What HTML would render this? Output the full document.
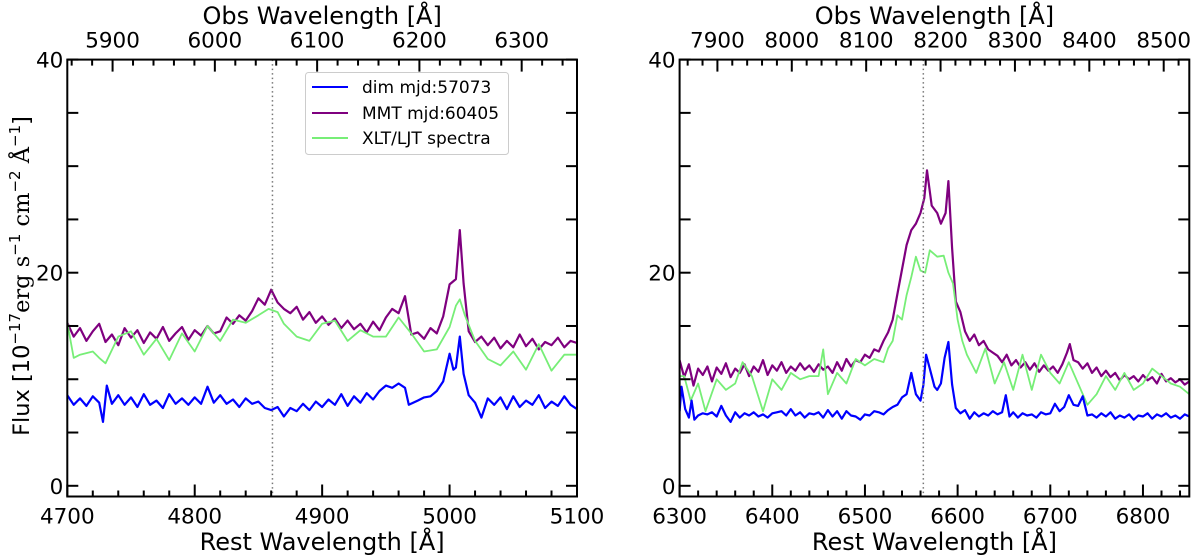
<!DOCTYPE html>
<html><head><meta charset="utf-8"><style>
html,body{margin:0;padding:0;background:#fff;width:1200px;height:556px;overflow:hidden}
svg{font-family:"DejaVu Sans","Liberation Sans",sans-serif}
</style></head><body>
<svg id="chart" width="1200" height="556" xmlns="http://www.w3.org/2000/svg"></svg>
<script>
// ---- data: left panel (Hbeta / [OIII]) ----
const L_blue_wl=[4700,4705,4710,4715,4720,4725,4728,4731,4735,4740,4745,4750,4755,4760,4765,4770,4775,4780,4785,4790,4795,4800,4805,4810,4815,4820,4825,4830,4835,4840,4845,4850,4855,4860,4865,4870,4875,4880,4885,4890,4895,4900,4905,4910,4915,4920,4925,4930,4935,4940,4945,4950,4955,4960,4965,4968,4975,4980,4985,4990,4995,5000,5003,5005,5008,5011,5015,5020,5025,5030,5035,5040,5045,5050,5055,5060,5065,5070,5075,5080,5085,5090,5095,5100];
const L_blue_flux=[8.5,7.6,8.2,7.5,8.4,7.8,6.0,9.4,7.7,8.5,7.6,8.3,7.4,8.6,7.6,8.0,7.3,8.6,7.7,8.2,7.6,8.3,7.7,9.3,7.8,8.5,7.7,8.1,7.4,8.2,7.7,7.9,7.3,7.1,7.4,6.5,7.3,7.0,7.7,7.1,7.9,7.4,8.1,7.6,8.6,7.5,8.4,7.8,8.7,8.1,8.9,9.4,9.2,9.6,9.2,7.6,8.0,8.3,8.4,8.9,9.8,12.4,10.9,11.1,14.0,10.5,8.5,7.8,6.4,8.2,7.6,8.3,7.2,8.4,7.4,8.0,7.6,8.5,7.3,7.9,7.5,8.4,7.6,7.2];
const L_mmt_wl=[4700,4705,4710,4715,4720,4725,4730,4735,4740,4745,4750,4755,4760,4765,4770,4775,4780,4785,4790,4795,4800,4805,4810,4815,4820,4825,4830,4835,4840,4845,4850,4855,4860,4865,4870,4875,4880,4885,4890,4895,4900,4905,4910,4915,4920,4925,4930,4935,4940,4945,4950,4955,4960,4965,4970,4975,4980,4985,4990,4995,5000,5005,5008,5011,5015,5020,5025,5030,5035,5040,5045,5050,5055,5060,5065,5070,5075,5080,5085,5090,5095,5100];
const L_mmt_flux=[15.3,14.0,14.8,13.6,14.5,15.2,13.5,14.2,13.2,14.8,13.9,14.6,13.4,14.4,13.8,14.9,13.6,14.3,14.9,13.7,14.6,14.1,15.0,14.3,14.5,15.8,15.2,16.0,15.5,16.4,17.6,17.0,18.4,17.2,16.6,16.2,16.8,15.6,16.3,15.3,15.9,15.1,15.7,14.8,15.5,14.7,15.2,14.4,15.4,14.6,15.8,16.6,16.2,17.8,14.2,14.4,13.8,14.8,14.3,15.9,18.9,19.4,24.0,19.0,14.5,13.5,14.0,13.2,13.9,12.9,13.6,13.0,14.2,13.1,13.8,12.8,13.5,13.2,13.9,13.0,13.6,13.4];
const L_xlt_wl=[4700,4705,4710,4720,4725,4730,4740,4750,4760,4770,4780,4790,4800,4810,4820,4830,4840,4850,4858,4865,4870,4880,4890,4900,4910,4920,4930,4940,4950,4960,4970,4980,4990,5000,5005,5008,5012,5020,5030,5040,5050,5060,5070,5080,5090,5100];
const L_xlt_flux=[15.3,12.0,12.3,12.6,12.0,11.5,14.0,14.5,12.3,13.8,11.8,14.3,12.6,15.0,13.6,15.6,15.3,16.0,16.6,16.3,15.2,14.0,13.6,15.2,15.5,13.6,14.6,14.0,14.0,15.8,14.3,12.6,12.8,14.9,16.9,17.5,16.0,13.6,11.9,11.3,12.6,10.9,13.3,10.8,12.3,12.3];
// ---- data: right panel (Halpha) ----
const R_blue_wl=[6300,6302,6306,6310,6313,6316,6320,6325,6330,6335,6340,6345,6350,6355,6360,6365,6370,6375,6380,6385,6390,6395,6400,6405,6410,6415,6420,6425,6430,6435,6440,6445,6450,6455,6460,6465,6470,6475,6480,6485,6490,6495,6500,6505,6510,6515,6520,6525,6530,6535,6540,6545,6550,6555,6560,6563,6566,6570,6575,6578,6582,6586,6590,6594,6598,6603,6608,6613,6618,6623,6628,6633,6638,6643,6648,6652,6656,6660,6665,6670,6675,6680,6685,6690,6695,6700,6705,6710,6715,6720,6725,6730,6735,6740,6745,6750,6755,6760,6765,6770,6775,6780,6785,6790,6795,6800,6805,6810,6815,6820,6825,6830,6835,6840,6845,6850];
const R_blue_flux=[7.0,9.3,7.2,6.4,8.0,6.2,6.6,6.8,6.7,6.9,6.5,7.5,6.6,6.0,6.9,6.4,6.8,6.6,6.9,6.5,6.7,6.4,6.8,6.9,7.0,6.6,7.2,6.6,6.9,6.4,6.8,6.7,6.9,6.4,7.1,6.5,7.0,6.3,7.0,6.6,6.5,6.2,6.7,6.6,7.0,6.9,6.7,7.1,7.4,7.6,8.3,8.6,10.6,8.6,8.0,9.4,12.3,11.0,9.3,9.0,9.6,12.0,13.5,9.5,7.3,6.8,7.1,6.3,6.9,6.5,6.8,6.6,7.0,6.7,6.9,8.5,6.5,6.9,6.4,6.8,6.6,6.7,6.4,6.9,6.7,6.8,7.7,7.0,7.4,8.5,7.6,7.5,8.4,6.6,6.7,6.4,6.8,6.5,6.9,6.3,6.6,6.4,6.7,6.2,6.6,6.5,6.8,6.3,6.7,6.5,6.8,6.4,6.6,6.3,6.7,6.5];
const R_mmt_wl=[6300,6305,6310,6315,6320,6325,6330,6335,6340,6345,6350,6355,6360,6365,6370,6375,6380,6385,6390,6395,6400,6405,6410,6415,6420,6425,6430,6435,6440,6445,6450,6455,6460,6465,6470,6475,6480,6485,6490,6495,6500,6505,6510,6515,6520,6525,6530,6535,6540,6545,6550,6555,6560,6564,6567,6572,6578,6582,6587,6590,6594,6598,6603,6608,6613,6618,6623,6628,6633,6638,6643,6648,6653,6658,6663,6668,6673,6678,6683,6688,6693,6698,6703,6708,6713,6718,6721,6725,6730,6735,6740,6745,6750,6755,6760,6765,6770,6775,6780,6785,6790,6795,6800,6805,6810,6815,6820,6825,6830,6835,6840,6845,6850];
const R_mmt_flux=[11.8,10.2,11.4,9.4,11.0,10.4,11.2,9.8,11.1,10.5,11.5,10.2,11.0,10.6,11.4,10.3,11.2,10.7,11.8,10.4,11.3,10.8,11.6,10.6,11.2,10.8,11.5,10.9,11.3,10.7,11.4,10.9,11.2,10.6,11.6,10.8,11.9,11.2,11.8,11.6,12.3,12.0,12.8,12.6,13.6,14.4,15.6,18.0,20.3,22.6,24.0,24.6,25.6,27.0,29.6,26.3,25.6,24.6,25.6,28.6,22.3,17.3,16.3,14.5,13.6,14.2,13.2,13.6,12.8,12.5,12.2,11.6,12.3,11.3,11.8,11.1,11.6,10.9,11.5,10.7,11.3,10.8,11.2,10.6,11.4,12.5,13.3,11.8,11.6,11.0,11.5,10.6,11.1,10.3,10.8,10.2,10.6,9.9,10.4,10.0,10.3,9.8,10.4,9.9,10.2,9.6,10.5,9.8,10.1,9.7,10.0,9.5,9.8];
const R_xlt_wl=[6300,6305,6312,6320,6328,6340,6350,6360,6368,6378,6390,6400,6410,6420,6430,6440,6450,6455,6460,6470,6480,6490,6500,6510,6520,6525,6530,6535,6540,6545,6550,6555,6560,6565,6570,6578,6585,6590,6595,6600,6605,6610,6620,6630,6640,6650,6660,6670,6680,6690,6700,6710,6720,6730,6740,6750,6760,6770,6780,6790,6800,6810,6820,6830,6840,6850];
const R_xlt_flux=[10.3,10.3,8.0,9.6,7.0,10.0,9.0,9.6,11.6,10.3,7.0,10.0,9.0,10.6,10.0,10.3,10.3,12.8,8.6,10.6,9.6,11.9,11.3,11.9,11.6,12.9,13.6,16.0,15.6,17.9,19.6,21.5,20.2,20.0,22.1,21.5,21.6,20.0,19.0,15.6,13.6,12.3,10.6,12.9,9.6,11.6,9.0,12.3,9.0,12.3,10.6,9.6,11.6,9.6,7.6,8.6,10.3,9.0,10.6,9.0,9.6,11.0,10.3,9.6,9.3,8.6];
const yTicks=[0,20,40];
const L_xTicks=[4700,4800,4900,5000,5100];
const L_obsTicks=[5900,6000,6100,6200,6300];
const R_xTicks=[6300,6400,6500,6600,6700,6800];
const R_obsTicks=[7900,8000,8100,8200,8300,8400,8500];
const zfac=1.2459;

const NS="http://www.w3.org/2000/svg";
const svg=document.getElementById('chart');
function mk(tag,attrs,parent){const e=document.createElementNS(NS,tag);for(const k in attrs)e.setAttribute(k,attrs[k]);(parent||svg).appendChild(e);return e;}

function panel(p){
  const g=mk('g',{});
  
  
  const X=v=>p.x0+(v-p.xmin)/(p.xmax-p.xmin)*(p.x1-p.x0);
  const Y=v=>485.8-(v/40)*(485.8-59.6);
  const top=59.6,bot=496.5;
  const series=[[p.xlt_wl,p.xlt_flux,'#77ee77',1.8,'xlt-ljt-spectrum'],[p.mmt_wl,p.mmt_flux,'#7f007f',2.2,'mmt-spectrum'],[p.blue_wl,p.blue_flux,'#0000ff',2.2,'dim-spectrum']];
  const order=[1,0,2];
  const clip=mk('clipPath',{id:'clip'+p.name},g);
  mk('rect',{x:p.x0,y:top,width:p.x1-p.x0,height:bot-top},clip);
  order.forEach(i=>{const s=series[i];
    const d=s[0].map((w,j)=>(j?'L':'M')+X(w).toFixed(1)+' '+Y(s[1][j]).toFixed(1)).join(' ');
    const pa=mk('path',{d:d,fill:'none',stroke:s[2],'stroke-width':s[3],'stroke-linejoin':'round','clip-path':'url(#clip'+p.name+')'},g);
    
    
  });
  const dl=mk('line',{x1:X(p.line),x2:X(p.line),y1:top,y2:bot,stroke:'#777','stroke-width':1.5,'stroke-dasharray':'1.5 3'},g);
  
  
  const fr=mk('rect',{x:p.x0,y:top,width:p.x1-p.x0,height:bot-top,fill:'none',stroke:'#000','stroke-width':2},g);
  
  
  for(let v=0;v<=40;v+=5){const y=Y(v);
    mk('line',{x1:p.x0,x2:p.x0+11,y1:y,y2:y,stroke:'#000','stroke-width':2},g);
    mk('line',{x1:p.x1,x2:p.x1-11,y1:y,y2:y,stroke:'#000','stroke-width':2},g);}
  yTicks.forEach(v=>{const t=mk('text',{x:p.x0-4,y:Y(v)+8,'text-anchor':'end','font-size':21.5},g);t.textContent=v;
    
    });
  for(let v=Math.ceil(p.xmin/20)*20;v<=p.xmax;v+=20){const x=X(v);const maj=v%100===0;
    mk('line',{x1:x,x2:x,y1:bot,y2:bot-(maj?12:6),stroke:'#000','stroke-width':2},g);}
  p.xTicks.forEach(v=>{const t=mk('text',{x:X(v),y:bot+27,'text-anchor':'middle','font-size':21.5},g);t.textContent=v;
    
    });
  const omin=p.xmin*zfac,omax=p.xmax*zfac;
  for(let v=Math.ceil(omin/20)*20;v<=omax;v+=20){const x=X(v/zfac);const maj=v%100===0;
    mk('line',{x1:x,x2:x,y1:top,y2:top+(maj?12:6),stroke:'#000','stroke-width':2},g);}
  p.obsTicks.forEach(v=>{const t=mk('text',{x:X(v/zfac),y:top-12,'text-anchor':'middle','font-size':21.5},g);t.textContent=v;
    
    });
  const xl=mk('text',{x:(p.x0+p.x1)/2,y:550,'text-anchor':'middle','font-size':24},g);xl.textContent='Rest Wavelength [Å]';
  
  
  const tl=mk('text',{x:(p.x0+p.x1)/2,y:24,'text-anchor':'middle','font-size':24},g);tl.textContent='Obs Wavelength [Å]';
  
  
}
panel({name:'left-panel',x0:67.3,x1:577,xmin:4700,xmax:5100,line:4861,xTicks:L_xTicks,obsTicks:L_obsTicks,
  blue_wl:L_blue_wl,blue_flux:L_blue_flux,mmt_wl:L_mmt_wl,mmt_flux:L_mmt_flux,xlt_wl:L_xlt_wl,xlt_flux:L_xlt_flux});
panel({name:'right-panel',x0:679.6,x1:1189.3,xmin:6300,xmax:6850,line:6563,xTicks:R_xTicks,obsTicks:R_obsTicks,
  blue_wl:R_blue_wl,blue_flux:R_blue_flux,mmt_wl:R_mmt_wl,mmt_flux:R_mmt_flux,xlt_wl:R_xlt_wl,xlt_flux:R_xlt_flux});
</script>
<svg width="1200" height="556" style="position:absolute;left:0;top:0" xmlns="http://www.w3.org/2000/svg" font-family="DejaVu Sans, Liberation Sans, sans-serif">
  <text transform="translate(29,276) rotate(-90)" text-anchor="middle" font-size="22.5">Flux [10<tspan dy="-9" font-size="15">−17</tspan><tspan dy="9" font-family="DejaVu Serif, Liberation Serif, serif">erg s</tspan><tspan dy="-9" font-size="15">−1</tspan><tspan dy="9" font-family="DejaVu Serif, Liberation Serif, serif"> cm</tspan><tspan dy="-9" font-size="15">−2</tspan><tspan dy="9" font-family="DejaVu Serif, Liberation Serif, serif"> Å</tspan><tspan dy="-9" font-size="15">−1</tspan><tspan dy="9">]</tspan></text>
  <g>
    <rect x="305.5" y="72.5" width="203" height="82" rx="3" fill="#fff" stroke="#ccc" stroke-width="1"/>
    <line x1="312" x2="348" y1="87" y2="87" stroke="#0000ff" stroke-width="2"/>
    <text x="362" y="93" font-size="17">dim mjd:57073</text>
    <line x1="312" x2="348" y1="113" y2="113" stroke="#7f007f" stroke-width="2"/>
    <text x="362" y="119" font-size="17">MMT mjd:60405</text>
    <line x1="312" x2="348" y1="138" y2="138" stroke="#77ee77" stroke-width="2"/>
    <text x="362" y="144" font-size="17">XLT/LJT spectra</text>
  </g>
</svg>
</body></html>
